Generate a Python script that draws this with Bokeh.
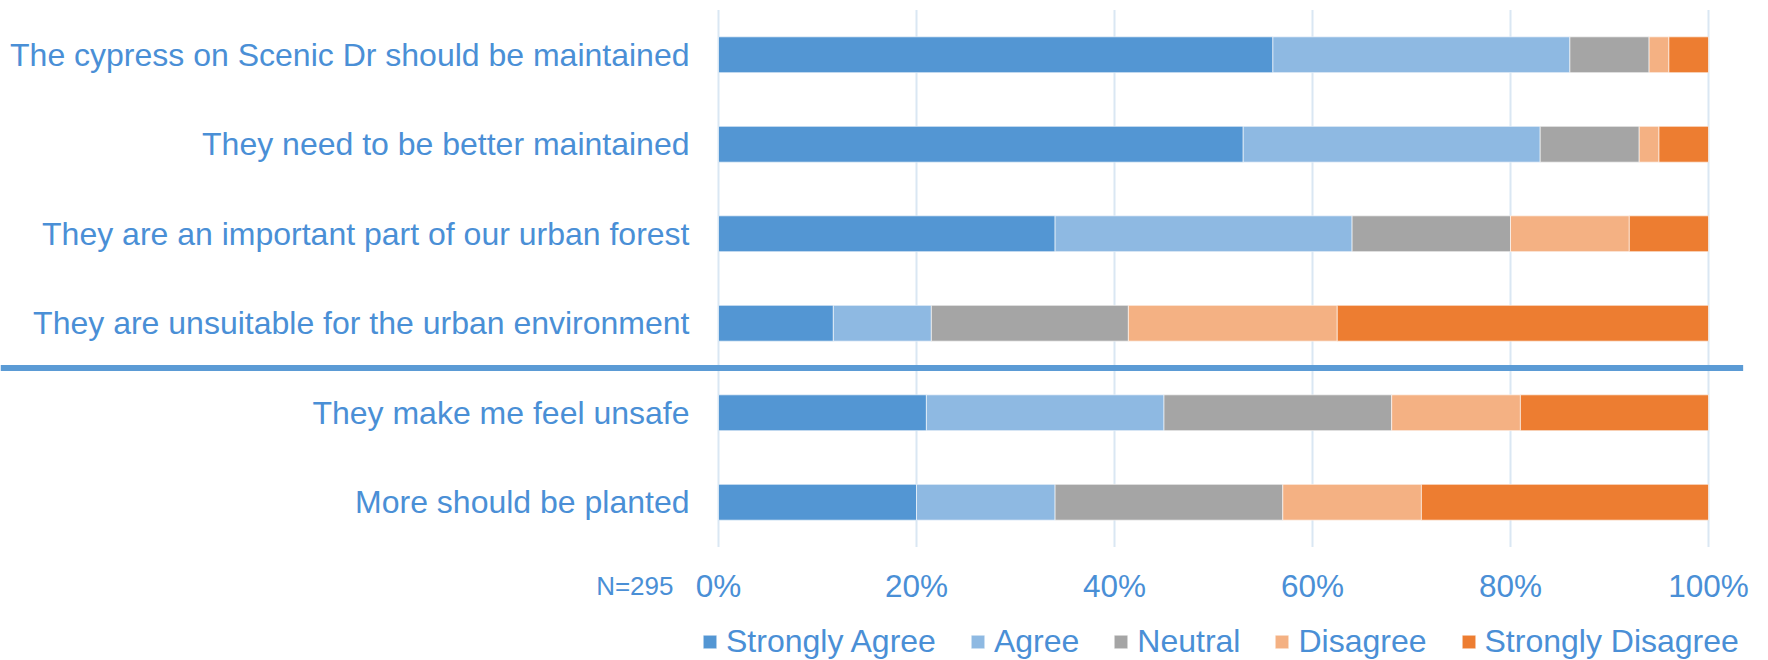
from bokeh.plotting import figure
from bokeh.models import ColumnDataSource, Range1d, Legend, LegendItem
from bokeh.core.properties import value
from bokeh.embed import file_html
from bokeh.resources import INLINE

# ---------------- data ----------------
statements = [
    "The cypress on Scenic Dr should be maintained",
    "They need to be better maintained",
    "They are an important part of our urban forest",
    "They are unsuitable for the urban environment",
    "They make me feel unsafe",
    "More should be planted",
]
responses = ["Strongly Agree", "Agree", "Neutral", "Disagree", "Strongly Disagree"]
strongly_agree = [56, 53, 34, 11.6, 21, 20]
agree = [30, 30, 30, 9.9, 24, 14]
neutral = [8, 10, 16, 19.9, 23, 23]
disagree = [2, 2, 12, 21.1, 13, 14]
strongly_disagree = [4, 5, 8, 37.5, 19, 29]
x_ticks = [0, 20, 40, 60, 80, 100]
tick_labels = ["0%", "20%", "40%", "60%", "80%", "100%"]
sample_note = "N=295"

# ---------------- style / layout ----------------
colors = ["#5396D3", "#8EB9E2", "#A5A5A5", "#F4B183", "#ED7D31"]
TEXT = "#4A8FD6"
FONT = "Liberation Sans"
W, H = 1768, 660
ZERO_PX, PX_PER_UNIT = 718, 9.9        # horizontal scale
ROW_PX, TOP_ROW_PX = 89.5, 54.25        # vertical scale
TICK_BASELINE_PX = 585
SEP_END = 103.5                         # right end of the group separator line

n = len(statements)
ypos = [n - 1 - i for i in range(n)]     # first statement on top

source = ColumnDataSource(dict(
    stmt=statements, y=ypos,
    sa=strongly_agree, a=agree, n=neutral, d=disagree, sd=strongly_disagree,
    zero=[0] * n,
))

x_start = -ZERO_PX / PX_PER_UNIT
x_end = x_start + W / PX_PER_UNIT
y_end = max(ypos) + TOP_ROW_PX / ROW_PX
y_start = y_end - H / ROW_PX
band_lo, band_hi = min(ypos) - 0.5, max(ypos) + 0.5
label_row_y = y_end - TICK_BASELINE_PX / ROW_PX

p = figure(width=W, height=H, output_backend="svg", toolbar_location=None,
           x_range=Range1d(x_start, x_end), y_range=Range1d(y_start, y_end),
           x_axis_location=None, y_axis_location=None,
           min_border_left=0, min_border_right=0, min_border_top=0, min_border_bottom=0)
p.outline_line_color = None
p.background_fill_color = "white"
p.border_fill_color = "white"
p.xgrid.visible = False
p.ygrid.visible = False

# value grid lines
p.segment(x0=x_ticks, x1=x_ticks, y0=[band_lo] * len(x_ticks), y1=[band_hi] * len(x_ticks),
          line_color="#DAE7F3", line_width=2)

renderers = p.hbar_stack(["sa", "a", "n", "d", "sd"], y="y", height=0.4, color=colors,
                         line_color="white", line_alpha=0.6, line_width=1, source=source)

# value tick labels
p.text(x=x_ticks, y=[label_row_y] * len(x_ticks), text=tick_labels,
       text_align="center", text_baseline="alphabetic", text_font=value(FONT),
       text_font_size="31.5px", text_color=TEXT)

# sample-size note
p.text(x=[0], y=[label_row_y], text=[sample_note], x_offset=-45,
       text_align="right", text_baseline="alphabetic", text_font=value(FONT),
       text_font_size="26px", text_color=TEXT)

# category labels
p.text(x="zero", y="y", text="stmt", source=source, x_offset=-29,
       text_align="right", text_baseline="middle", text_font=value(FONT),
       text_font_size="32px", text_color=TEXT)

# separator between the two groups of statements
sep_y = (ypos[3] + ypos[4]) / 2
p.segment(x0=[x_start], x1=[SEP_END], y0=[sep_y], y1=[sep_y],
          line_color="#5B9BD5", line_width=6)

legend = Legend(items=[LegendItem(label=lab, renderers=[r]) for lab, r in zip(responses, renderers)],
                orientation="horizontal", location=(701, 0),
                padding=0, margin=0, spacing=33, label_standoff=8,
                glyph_width=17, glyph_height=17,
                label_text_font=FONT, label_text_font_size="32px", label_text_color=TEXT,
                border_line_color=None, background_fill_alpha=0)
p.add_layout(legend)

open("out.html", "w").write(file_html(p, INLINE))
